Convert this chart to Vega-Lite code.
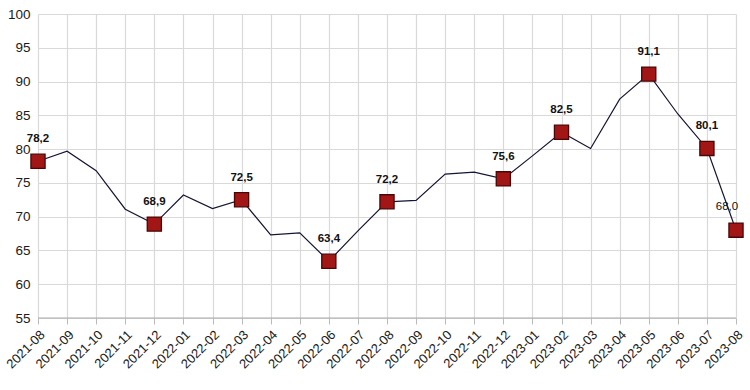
{
  "$schema": "https://vega.github.io/schema/vega-lite/v6.json",
  "width": 698,
  "height": 304,
  "autosize": "none",
  "padding": {"left": 38, "top": 14, "right": 14, "bottom": 72},
  "background": "white",
  "config": {
    "view": {"stroke": null},
    "font": "Liberation Sans",
    "axis": {"gridColor": "#d9d9d9", "gridWidth": 1.2, "labelFont": "Liberation Sans", "labelColor": "#1a1a1a", "title": null}
  },
  "data": {
    "values": [
      {"month": "2021-08", "value": 78.2, "label": "78,2", "mark": "yes"},
      {"month": "2021-09", "value": 79.7, "label": "", "mark": "no"},
      {"month": "2021-10", "value": 76.8, "label": "", "mark": "no"},
      {"month": "2021-11", "value": 71.1, "label": "", "mark": "no"},
      {"month": "2021-12", "value": 68.9, "label": "68,9", "mark": "yes"},
      {"month": "2022-01", "value": 73.2, "label": "", "mark": "no"},
      {"month": "2022-02", "value": 71.2, "label": "", "mark": "no"},
      {"month": "2022-03", "value": 72.5, "label": "72,5", "mark": "yes"},
      {"month": "2022-04", "value": 67.3, "label": "", "mark": "no"},
      {"month": "2022-05", "value": 67.6, "label": "", "mark": "no"},
      {"month": "2022-06", "value": 63.4, "label": "63,4", "mark": "yes"},
      {"month": "2022-07", "value": 67.9, "label": "", "mark": "no"},
      {"month": "2022-08", "value": 72.2, "label": "72,2", "mark": "yes"},
      {"month": "2022-09", "value": 72.4, "label": "", "mark": "no"},
      {"month": "2022-10", "value": 76.3, "label": "", "mark": "no"},
      {"month": "2022-11", "value": 76.6, "label": "", "mark": "no"},
      {"month": "2022-12", "value": 75.6, "label": "75,6", "mark": "yes"},
      {"month": "2023-01", "value": 79.0, "label": "", "mark": "no"},
      {"month": "2023-02", "value": 82.5, "label": "82,5", "mark": "yes"},
      {"month": "2023-03", "value": 80.1, "label": "", "mark": "no"},
      {"month": "2023-04", "value": 87.4, "label": "", "mark": "no"},
      {"month": "2023-05", "value": 91.1, "label": "91,1", "mark": "yes"},
      {"month": "2023-06", "value": 85.2, "label": "", "mark": "no"},
      {"month": "2023-07", "value": 80.1, "label": "80,1", "mark": "yes"},
      {"month": "2023-08", "value": 68.0, "label": "68,0", "mark": "last"}
    ]
  },
  "encoding": {
    "x": {
      "field": "month", "type": "ordinal", "sort": null,
      "scale": {"type": "point", "padding": 0},
      "axis": {"labelAngle": -45, "labelFontSize": 13, "grid": true, "domain": false, "tickColor": "#bbbbbb", "tickSize": 6, "labelPadding": 4}
    },
    "y": {
      "field": "value", "type": "quantitative",
      "scale": {"domain": [55, 100], "nice": false, "zero": false},
      "axis": {"values": [55, 60, 65, 70, 75, 80, 85, 90, 95, 100], "labelFontSize": 13.5, "ticks": false, "domain": false, "labelPadding": 8}
    }
  },
  "layer": [
    {
      "mark": {"type": "rule", "color": "#aaaaaa", "strokeWidth": 1.2},
      "data": {"values": [{"v": 55}]},
      "encoding": {"y": {"field": "v", "type": "quantitative"}, "x": null}
    },
    {
      "mark": {"type": "line", "color": "#151535", "strokeWidth": 1.2}
    },
    {
      "transform": [{"filter": "datum.mark != 'no'"}],
      "mark": {"type": "square", "size": 200, "filled": true, "fill": "#a31616", "stroke": "#4a0606", "strokeWidth": 1.3, "opacity": 1}
    },
    {
      "transform": [{"filter": "datum.mark == 'yes'"}],
      "mark": {"type": "text", "dy": -22, "fontSize": 11.5, "fontWeight": "bold", "color": "#111111", "font": "Liberation Sans"},
      "encoding": {"text": {"field": "label"}}
    },
    {
      "transform": [{"filter": "datum.mark == 'last'"}],
      "mark": {"type": "text", "dy": -23, "dx": -9, "fontSize": 11.5, "color": "#111111", "font": "Liberation Sans"},
      "encoding": {"text": {"field": "label"}}
    }
  ]
}
